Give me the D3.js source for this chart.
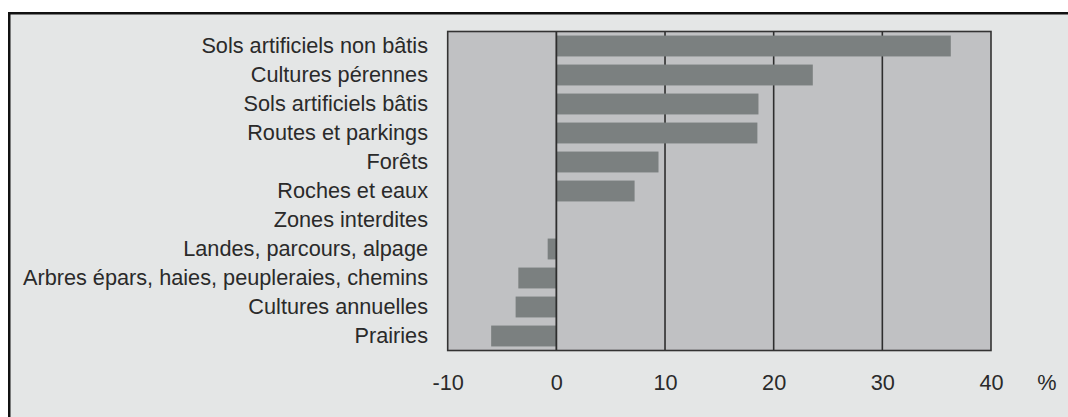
<!DOCTYPE html>
<html>
<head>
<meta charset="utf-8">
<script src="https://cdn.jsdelivr.net/npm/d3@7"></script>
<style>
  html, body { margin: 0; padding: 0; background: #ffffff; }
  svg { display: block; }
  text { font-family: "Liberation Sans", Arial, Helvetica, sans-serif; }
</style>
</head>
<body>
<svg id="chart" width="1068" height="417"></svg>
<script>
const categories = [
  "Sols artificiels non bâtis",
  "Cultures pérennes",
  "Sols artificiels bâtis",
  "Routes et parkings",
  "Forêts",
  "Roches et eaux",
  "Zones interdites",
  "Landes, parcours, alpage",
  "Arbres épars, haies, peupleraies, chemins",
  "Cultures annuelles",
  "Prairies"
];
const values = [36.3, 23.6, 18.6, 18.5, 9.4, 7.2, 0, -0.8, -3.5, -3.75, -6.0];
const xTicks = [-10, 0, 10, 20, 30, 40];
const xTickLabels = ["-10", "0", "10", "20", "30", "40"];
const gridTicks = [10, 20, 30];
const unitLabel = "%";

const svg = d3.select("#chart");
const W = 1068, H = 417;
const plot = { left: 447.7, right: 991, top: 31.5, bottom: 350.5 };
const fontSize = 21.7;

// outer frame
svg.append("rect")
  .attr("x", 9.25).attr("y", 13.25)
  .attr("width", W).attr("height", H)
  .attr("fill", "#e4e6e6")
  .attr("stroke", "#111").attr("stroke-width", 2.5);

const x = d3.scaleLinear().domain([-10, 40]).range([plot.left, plot.right]);
const y = d3.scaleBand().domain(categories).range([plot.top, plot.bottom])
  .paddingInner(0.28).paddingOuter(0.14);

// plot background
svg.append("rect")
  .attr("x", plot.left).attr("y", plot.top)
  .attr("width", plot.right - plot.left).attr("height", plot.bottom - plot.top)
  .attr("fill", "#c0c1c3");

// gridlines (behind bars)
svg.append("g").selectAll("line").data(gridTicks).join("line")
  .attr("x1", d => x(d)).attr("x2", d => x(d))
  .attr("y1", plot.top).attr("y2", plot.bottom)
  .attr("stroke", "#2e2e2e").attr("stroke-width", 1.6);

// bars
svg.append("g").selectAll("rect").data(categories).join("rect")
  .attr("x", (d, i) => x(Math.min(0, values[i])))
  .attr("y", d => y(d))
  .attr("width", (d, i) => Math.abs(x(values[i]) - x(0)))
  .attr("height", y.bandwidth())
  .attr("fill", "#7b8080");

// zero line
svg.append("line")
  .attr("x1", x(0)).attr("x2", x(0))
  .attr("y1", plot.top).attr("y2", plot.bottom)
  .attr("stroke", "#2e2e2e").attr("stroke-width", 1.8);

// plot border
svg.append("rect")
  .attr("x", plot.left).attr("y", plot.top)
  .attr("width", plot.right - plot.left).attr("height", plot.bottom - plot.top)
  .attr("fill", "none")
  .attr("stroke", "#333").attr("stroke-width", 1.6);

// x axis labels
const xAxis = svg.append("g")
  .attr("transform", `translate(0,${plot.bottom})`)
  .call(d3.axisBottom(x).tickValues(xTicks).tickSize(0).tickPadding(24.5)
    .tickFormat((d, i) => xTickLabels[i]));
xAxis.select(".domain").remove();
xAxis.selectAll("text")
  .attr("font-size", fontSize)
  .attr("font-family", "Liberation Sans, Arial, sans-serif")
  .attr("fill", "#2a2a2a");

// y axis labels
const yAxis = svg.append("g")
  .attr("transform", `translate(${plot.left},0)`)
  .call(d3.axisLeft(y).tickSize(0).tickPadding(19.7));
yAxis.select(".domain").remove();
yAxis.selectAll("text")
  .attr("font-size", fontSize)
  .attr("font-family", "Liberation Sans, Arial, sans-serif")
  .attr("fill", "#2a2a2a");

// unit label
svg.append("text")
  .attr("x", 1047).attr("y", 389.5)
  .attr("text-anchor", "middle")
  .attr("font-size", fontSize)
  .attr("fill", "#2a2a2a")
  .text(unitLabel);
</script>
</body>
</html>
